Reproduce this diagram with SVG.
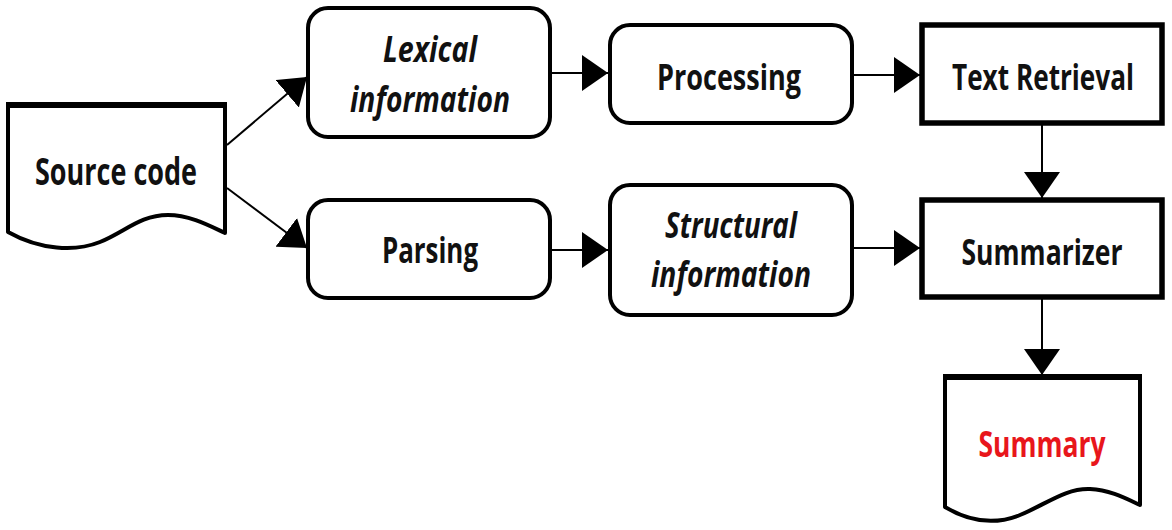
<svg xmlns="http://www.w3.org/2000/svg" width="1172" height="530" viewBox="0 0 1172 530">
<defs>
<marker id="ah" markerUnits="userSpaceOnUse" markerWidth="26" markerHeight="36" refX="26" refY="18" orient="auto">
<path d="M0,0 L26,18 L0,36 z" fill="#000"/>
</marker>
<style>
.rr{fill:#fff;stroke:#000;stroke-width:4}
.bx{fill:#fff;stroke:#000;stroke-width:5.5}
.doc{fill:#fff;stroke:#000;stroke-width:4;stroke-linejoin:round}
.top{stroke:#000;stroke-width:6}
.t{font-family:"Open Sans","Noto Sans","DejaVu Sans",sans-serif;font-weight:700;font-size:35px;fill:#111;text-anchor:middle}
.i{font-style:italic}
.ln{stroke:#000;stroke-width:2;fill:none;marker-end:url(#ah)}
</style>
</defs>
<rect width="1172" height="530" fill="#fff"/>
<g id="connectors">
<line class="ln" x1="227" y1="145" x2="307" y2="77"/>
<line class="ln" x1="227" y1="188" x2="307" y2="248"/>
<line class="ln" x1="550" y1="73" x2="608" y2="73"/>
<line class="ln" x1="852" y1="75" x2="920" y2="75"/>
<line class="ln" x1="550" y1="250" x2="608" y2="250"/>
<line class="ln" x1="852" y1="248" x2="920" y2="248"/>
<line class="ln" x1="1042" y1="123" x2="1042" y2="198"/>
<line class="ln" x1="1042" y1="297" x2="1042" y2="375"/>
</g>
<g id="source">
<path class="doc" d="M8,105 H225 V233 C210,226 190,215 168,215 C140,215 125,232 100,242 C75,252 40,250 8,232 Z"/>
<line class="top" x1="6" y1="105" x2="227" y2="105"/>
<text class="t" x="116" y="185" style="font-size:37px" textLength="162" lengthAdjust="spacingAndGlyphs">Source code</text>
</g>
<g id="lexical">
<rect class="rr" x="308" y="8" width="242" height="129" rx="20"/>
<text class="t i" x="430" y="62" textLength="94" lengthAdjust="spacingAndGlyphs">Lexical</text>
<text class="t i" x="430" y="112" textLength="160" lengthAdjust="spacingAndGlyphs">information</text>
</g>
<g id="processing">
<rect class="rr" x="610" y="25" width="242" height="98" rx="20"/>
<text class="t" x="729" y="90" textLength="144" lengthAdjust="spacingAndGlyphs">Processing</text>
</g>
<g id="retrieval">
<rect class="bx" x="922" y="25" width="240" height="98"/>
<text class="t" x="1043" y="90" textLength="182" lengthAdjust="spacingAndGlyphs">Text Retrieval</text>
</g>
<g id="parsing">
<rect class="rr" x="308" y="200" width="242" height="98" rx="20"/>
<text class="t" x="430" y="263" textLength="96" lengthAdjust="spacingAndGlyphs">Parsing</text>
</g>
<g id="structural">
<rect class="rr" x="610" y="185" width="242" height="130" rx="20"/>
<text class="t i" x="731" y="238" textLength="132" lengthAdjust="spacingAndGlyphs">Structural</text>
<text class="t i" x="731" y="287" textLength="160" lengthAdjust="spacingAndGlyphs">information</text>
</g>
<g id="summarizer">
<rect class="bx" x="922" y="200" width="240" height="97"/>
<text class="t" x="1042" y="265" textLength="161" lengthAdjust="spacingAndGlyphs">Summarizer</text>
</g>
<g id="summary">
<path class="doc" d="M945,377 H1140 V505 C1125,498 1110,490 1090,489 C1065,488 1045,505 1020,515 C995,525 970,522 945,507 Z"/>
<line class="top" x1="943" y1="377" x2="1142" y2="377"/>
<text class="t" x="1042" y="457" textLength="127" lengthAdjust="spacingAndGlyphs" style="fill:#e8161b">Summary</text>
</g>
</svg>
